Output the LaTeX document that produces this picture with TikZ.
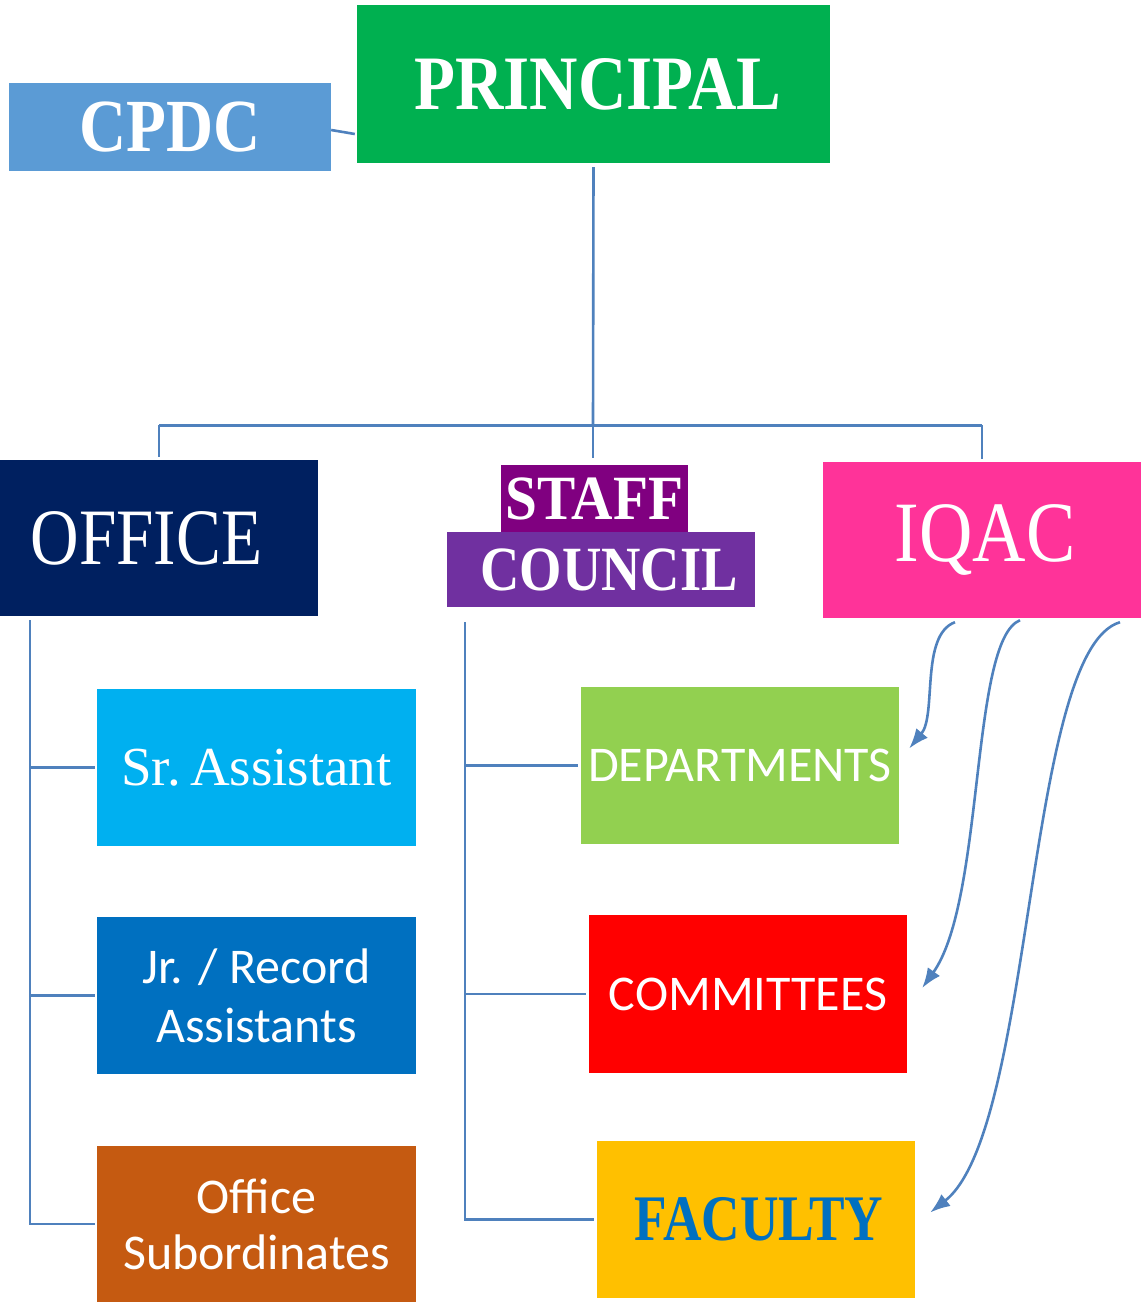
\documentclass[tikz,border=0pt]{standalone}
\usepackage{fontspec}
\setmainfont{Liberation Serif}
\newfontfamily\calibri{Carlito}
\usetikzlibrary{arrows.meta,calc}
\definecolor{linkblue}{RGB}{79,129,189}
\definecolor{cpdcblue}{HTML}{5B9BD5}
\definecolor{princgreen}{HTML}{00B050}
\definecolor{officenavy}{HTML}{002060}
\definecolor{staffpurple}{HTML}{800080}
\definecolor{councilpurple}{HTML}{7030A0}
\definecolor{iqacpink}{HTML}{FF3399}
\definecolor{srblue}{HTML}{00B0F0}
\definecolor{jrblue}{HTML}{0070C0}
\definecolor{subbrown}{HTML}{C55A11}
\definecolor{deptgreen}{HTML}{92D050}
\definecolor{commred}{HTML}{FF0000}
\definecolor{facgold}{HTML}{FFC000}
\newcommand{\fs}[1]{\fontsize{#1}{#1}\selectfont}
\begin{document}
\begin{tikzpicture}[x=1pt,y=-1pt,
    box/.style={rectangle,inner sep=0pt,text=white,align=center},
    link/.style={draw=linkblue,line width=2.6pt},
    iqlink/.style={link,-{Latex[length=20pt,width=15pt]}}]
  \useasboundingbox (0,0) rectangle (1142,1302);
  % top level
  \node[box,fill=princgreen,minimum width=473pt,minimum height=158pt,font=\fs{77}\bfseries] (principal) at (593.5,84)
       {\hspace*{9pt}\scalebox{0.87}[1]{PRINCIPAL}};
  \node[box,fill=cpdcblue,minimum width=322pt,minimum height=88pt,font=\fs{75}\bfseries] (cpdc) at (170,127)
       {\scalebox{0.87}[1]{CPDC}};
  % second level
  \node[box,fill=officenavy,minimum width=318pt,minimum height=156pt,font=\fs{80}] (office) at (159,538)
       {\hspace*{-25pt}\scalebox{0.84}[1]{OFFICE}};
  \node[box,fill=councilpurple,minimum width=308pt,minimum height=75pt,font=\fs{63}\bfseries] (council) at (601,569.5)
       {\hspace*{16pt}\scalebox{0.865}[1]{COUNCIL}};
  \node[box,fill=staffpurple,minimum width=187pt,minimum height=67pt,font=\fs{63}\bfseries] (staff) at (594.5,498.5)
       {\scalebox{0.91}[1]{STAFF}};
  \node[box,fill=iqacpink,minimum width=318pt,minimum height=156pt,font=\fs{86}] (iqac) at (982,540)
       {\hspace*{6pt}\raisebox{-4pt}{\scalebox{0.86}[1]{IQAC}}};
  % office side
  \node[box,fill=srblue,minimum width=319pt,minimum height=157pt,font=\fs{55}] (srast) at (256.5,767.5)
       {Sr.\,Assistant};
  \node[box,fill=jrblue,minimum width=319pt,minimum height=157pt,font=\calibri\fontsize{50}{59}\selectfont] (jrast) at (256.5,995.5)
       {Jr. / Record\\Assistants};
  \node[box,fill=subbrown,minimum width=319pt,minimum height=156pt,font=\calibri\fontsize{50}{56}\selectfont] (offsub) at (256.5,1224)
       {Office\\Subordinates};
  % staff council side
  \node[box,fill=deptgreen,minimum width=318pt,minimum height=157pt,font=\calibri\fs{50}] (dept) at (740,765.5)
       {DEPARTMENTS};
  \node[box,fill=commred,minimum width=318pt,minimum height=158pt,font=\calibri\fs{50}] (comm) at (748,994)
       {COMMITTEES};
  \node[box,fill=facgold,text=jrblue,minimum width=318pt,minimum height=157pt,font=\fs{65}\bfseries] (fac) at (756,1219.5)
       {\hspace*{6pt}\scalebox{0.82}[1]{FACULTY}};

  % connectors
  \draw[link] ([yshift=-3pt]cpdc.east) -- ([xshift=-2pt,yshift=-7pt]cpdc.east -| principal.west);
  \coordinate (bus) at ($(principal.south)+(-0.5,262)$);
  \draw[link] ([yshift=-4pt]principal.south) -- (bus);
  \draw[link] (office.north |- bus) -- (bus -| iqac.north);
  \foreach \n in {office,iqac}
    \draw[link] (\n.north |- bus) -- ([yshift=3pt]\n.north);
  \draw[link] (bus) -- ([yshift=7pt]bus |- staff.north);
  \coordinate (ospine) at ($(office.south west)+(30,4)$);
  \coordinate (sspine) at ($(council.south west)+(18,15)$);
  \draw[link] (ospine) |- ([xshift=-2pt]offsub.west);
  \draw[link] (sspine) |- ([xshift=-3pt]fac.west);
  \foreach \n in {srast,jrast}
    \draw[link] (ospine |- \n.west) -- ([xshift=-2pt]\n.west);
  \foreach \n in {dept,comm}
    \draw[link] (sspine |- \n.west) -- ([xshift=-3pt]\n.west);
  % iqac arrows
  \draw[iqlink] ($(iqac.south)+(-27,4)$) .. controls (920,635) and (937,715) .. ($(dept.east)+(10,-17)$);
  \draw[iqlink] ($(iqac.south)+(38,2)$) .. controls (970,640) and (985,900) .. ($(comm.east)+(15,-6)$);
  \draw[iqlink] ($(iqac.south)+(138,4)$) .. controls (1025,650) and (1035,1130) .. ($(fac.east)+(15,-7)$);
\end{tikzpicture}
\end{document}
